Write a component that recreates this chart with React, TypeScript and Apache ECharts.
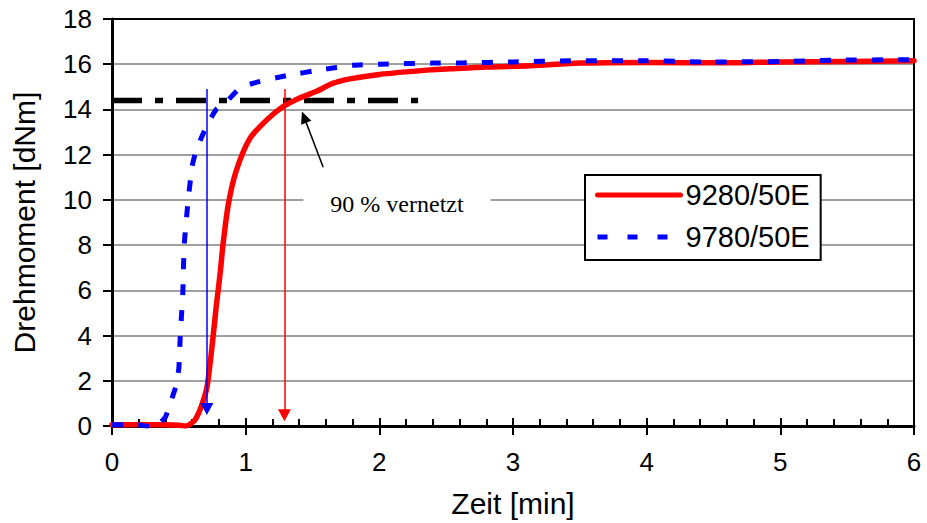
import React, { useEffect, useRef } from "react";
import * as echarts from "echarts";

// Data (time in min, torque in dNm)
const redName = "9280/50E";
const blueName = "9780/50E";
const redTime = [0, 0.1, 0.2, 0.3, 0.4, 0.5, 0.55, 0.6, 0.63, 0.67, 0.71, 0.75, 0.78, 0.81, 0.83, 0.87, 0.93, 1.03, 1.16, 1.28, 1.4, 1.53, 1.65, 1.78, 2.0, 2.38, 2.53, 2.8, 3.13, 3.5, 4.0, 4.62, 5.0, 5.5, 6.0];
const redTorque = [0.05, 0.05, 0.07, 0.05, 0.05, 0.03, 0.0, 0.15, 0.35, 0.9, 1.7, 3.6, 5.3, 6.8, 8.0, 9.8, 11.3, 12.7, 13.55, 14.13, 14.5, 14.8, 15.15, 15.35, 15.55, 15.75, 15.8, 15.88, 15.93, 16.05, 16.08, 16.06, 16.1, 16.12, 16.15];
const blueTime = [0, 0.1, 0.2, 0.25, 0.3, 0.33, 0.36, 0.4, 0.43, 0.48, 0.5, 0.51, 0.52, 0.53, 0.54, 0.57, 0.6, 0.63, 0.68, 0.72, 0.78, 0.85, 0.96, 1.08, 1.31, 1.56, 1.8, 2.0, 2.4, 2.63, 3.0, 3.43, 4.0, 4.45, 5.0, 5.4, 6.0];
const blueTorque = [0.05, 0.05, 0.05, 0.0, -0.03, -0.05, 0.13, 0.4, 0.9, 1.8, 2.55, 3.9, 4.9, 5.9, 8.0, 10.0, 11.5, 12.2, 12.9, 13.4, 14.0, 14.3, 14.96, 15.2, 15.5, 15.75, 15.95, 16.0, 16.05, 16.06, 16.1, 16.15, 16.15, 16.1, 16.12, 16.18, 16.2];
const level90 = 14.4;
const level90Range = [0, 2.29];
const blueMarkTime = 0.71;
const redMarkTime = 1.29;
const markTop = 14.9;
const blueMarkEnd = 0.75;
const redMarkEnd = 0.48;
const pointerFrom = [1.58, 11.44];
const pointerTo = [1.437, 13.66];
const noteText = "90 % vernetzt";
const notePos = [2.132, 9.81];
const xTicks = { min: 0, max: 6, interval: 1 };
const yTicks = { min: 0, max: 18, interval: 2 };

const SANS = "'Liberation Sans', Arial, sans-serif";
const SERIF = "'Liberation Serif', 'Times New Roman', serif";
const RED = "#ff0000";
const BLUE = "#0000ff";
const redLine = { color: RED, width: 5.5, type: "solid", cap: "round", join: "round" };
const blueLine = { color: BLUE, width: 5, type: [11, 15], cap: "butt" };

export default function App() {
  const ref = useRef<HTMLDivElement>(null);
  useEffect(() => {
    if (!ref.current) return;
    const chart = echarts.init(ref.current, null, { renderer: "svg" });
    const zip = (a: number[], b: number[]) => a.map((v, i) => [v, b[i]]);
    const hidden = {
      axisTick: { show: false },
      axisLabel: { show: false },
      splitLine: { show: false },
    };
    const noSymbol = { color: "rgba(0,0,0,0)", opacity: 0, borderWidth: 0 };
    chart.setOption({
      animation: false,
      backgroundColor: "#fff",
      grid: { left: 112, right: 13, top: 19, bottom: 95, containLabel: false },
      legend: {
        data: [
          { name: redName, itemStyle: noSymbol, lineStyle: { ...redLine, width: 5 } },
          { name: blueName, itemStyle: noSymbol, lineStyle: { ...blueLine, type: [10, 20] } },
        ],
        orient: "vertical",
        left: 585,
        top: 175,
        padding: [5, 11, 8, 10],
        itemWidth: 83,
        itemHeight: 14,
        itemGap: 12,
        backgroundColor: "#fff",
        borderColor: "#000",
        borderWidth: 2,
        borderRadius: 0,
        textStyle: { fontSize: 29, lineHeight: 30, color: "#000", fontFamily: SANS },
        selectedMode: false,
      },
      xAxis: [
        {
          type: "value",
          ...xTicks,
          position: "bottom",
          name: "Zeit [min]",
          nameLocation: "middle",
          nameGap: 62,
          nameTextStyle: { fontSize: 30, color: "#000", fontFamily: SANS },
          axisLine: { lineStyle: { color: "#000", width: 3 } },
          axisTick: { inside: true, length: 8, lineStyle: { color: "#000", width: 2 } },
          minorTick: { show: true, splitNumber: 5, length: 7, lineStyle: { color: "#000", width: 2 } },
          axisLabel: { margin: 23, fontSize: 26, color: "#000", fontFamily: SANS },
          splitLine: { show: false },
        },
        {
          type: "value",
          ...xTicks,
          position: "bottom",
          axisLine: { show: false, onZero: false },
          axisTick: { inside: false, length: 9, lineStyle: { color: "#000", width: 2 } },
          axisLabel: { show: false },
          splitLine: { show: false },
        },
        {
          type: "value",
          ...xTicks,
          position: "top",
          axisLine: { onZero: false, lineStyle: { color: "#000", width: 2 } },
          ...hidden,
        },
      ],
      yAxis: [
        {
          type: "value",
          ...yTicks,
          position: "left",
          name: "Drehmoment [dNm]",
          nameLocation: "middle",
          nameGap: 73,
          nameTextStyle: { fontSize: 30, color: "#000", fontFamily: SANS },
          axisLine: { lineStyle: { color: "#000", width: 3 } },
          axisTick: { inside: false, length: 9, lineStyle: { color: "#000", width: 2 } },
          axisLabel: { margin: 20, fontSize: 26, color: "#000", fontFamily: SANS },
          splitLine: { show: true, showMaxLine: false, lineStyle: { color: "#808080", width: 1.5 } },
        },
        {
          type: "value",
          ...yTicks,
          position: "right",
          axisLine: { onZero: false, lineStyle: { color: "#000", width: 2 } },
          ...hidden,
        },
      ],
      series: [
        {
          name: "90%",
          type: "line",
          data: level90Range.map((t) => [t, level90]),
          symbol: "none",
          lineStyle: { color: "#000", width: 5.5, type: [30, 13, 8, 13], cap: "butt" },
          markLine: {
            silent: true,
            symbol: ["none", "triangle"],
            label: { show: false },
            data: [
              [
                { coord: [blueMarkTime, markTop], symbol: "none", lineStyle: { color: BLUE, width: 1.5, type: "solid" } },
                { coord: [blueMarkTime, blueMarkEnd], symbol: "triangle", symbolSize: [13, 12], itemStyle: { color: BLUE } },
              ],
              [
                { coord: [redMarkTime, markTop], symbol: "none", lineStyle: { color: RED, width: 1.5, type: "solid" } },
                { coord: [redMarkTime, redMarkEnd], symbol: "triangle", symbolSize: [13, 12], itemStyle: { color: RED } },
              ],
              [
                { coord: pointerFrom, symbol: "none", lineStyle: { color: "#000", width: 1.5, type: "solid" } },
                { coord: pointerTo, symbol: "triangle", symbolSize: [11, 12], itemStyle: { color: "#000" } },
              ],
            ],
          },
          markPoint: {
            silent: true,
            symbol: "circle",
            symbolSize: 1,
            itemStyle: { color: "rgba(0,0,0,0)" },
            label: {
              show: true,
              position: "inside",
              formatter: noteText,
              fontFamily: SERIF,
              fontSize: 24,
              color: "#000",
              backgroundColor: "#fff",
              padding: [2, 27],
            },
            data: [{ coord: notePos }],
          },
          z: 2,
        },
        {
          name: redName,
          type: "line",
          data: zip(redTime, redTorque),
          symbol: "none",
          showSymbol: false,
          smooth: 0.25,
          lineStyle: redLine,
          itemStyle: { color: RED },
          z: 3,
        },
        {
          name: blueName,
          type: "line",
          data: zip(blueTime, blueTorque),
          symbol: "none",
          showSymbol: false,
          smooth: 0.15,
          lineStyle: blueLine,
          itemStyle: { color: BLUE },
          z: 4,
        },
      ],
    });
    return () => chart.dispose();
  }, []);
  return (
    <div
      ref={ref}
      style={{ position: "fixed", left: 0, top: 0, width: 927, height: 523, background: "#fff" }}
    />
  );
}
